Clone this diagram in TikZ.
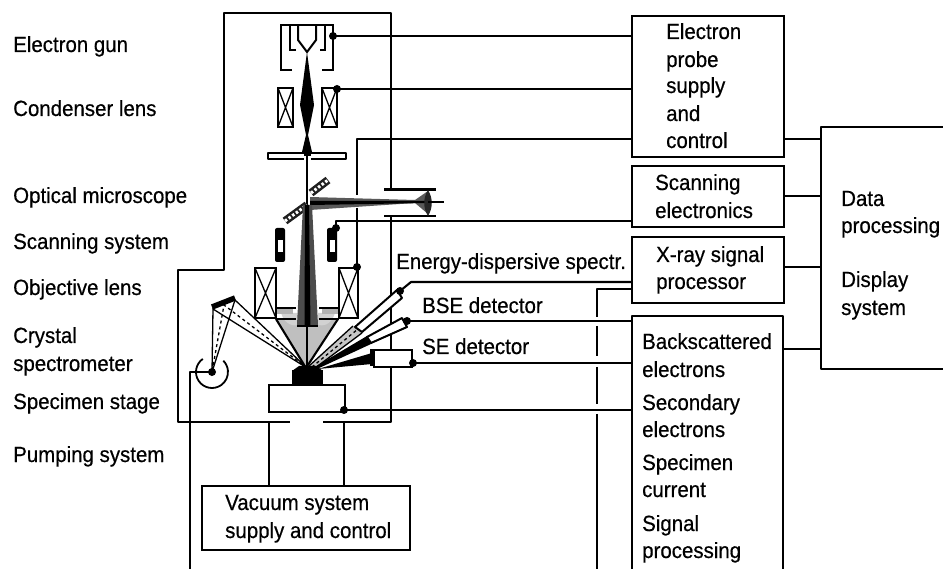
\documentclass[tikz,border=0pt]{standalone}
\usepackage{fontspec}
\setmainfont[FakeStretch=0.93,FakeBold=0.5]{Liberation Sans}
\usetikzlibrary{calc}
\tikzset{
  ln/.style={line width=2.1pt,line join=round},
  thin ln/.style={line width=1.3pt},
  txt/.style={inner sep=0pt,anchor=base west,font=\fontsize{22}{26}\selectfont},
  bx/.style={draw,line width=2.1pt,inner sep=0pt,anchor=north west},
  coil/.style={draw,line width=2pt},
  dot/.style={circle,fill=black,inner sep=0pt,minimum size=8pt},
  tube/.style={draw,fill=white,line width=2pt,line join=round},
}
\begin{document}
\begin{tikzpicture}[x=1pt,y=-1pt]
\useasboundingbox (0,0) rectangle (943,569);
% ---------- left labels
\foreach \t/\y in {Electron gun/52,Condenser lens/116,Optical microscope/203,Scanning system/249,Objective lens/295,Crystal/343,spectrometer/371,Specimen stage/409,Pumping system/462}
  \node[txt] at (13,\y) {\t};
% ---------- boxes
\node[bx,minimum width=152pt,minimum height=141pt] (probe) at (631,15) {};
\node[bx,minimum width=152pt,minimum height=61pt] (scan) at (631,165) {};
\node[bx,minimum width=152pt,minimum height=66pt] (xray) at (631,236) {};
\node[bx,minimum width=208pt,minimum height=64pt] (vac) at (201,485) {};
\coordinate (sigTL) at (632,316); \coordinate (sigTR) at (783,316);
\draw[ln] (632,569) -- (sigTL) -- (sigTR) -- (783,569);
\draw[ln] (943,127) -- (821,127) -- (821,369) -- (943,369);
\foreach \t/\y in {Electron/39,probe/67,supply/93,and/121,control/148} \node[txt] at (666,\y) {\t};
\foreach \t/\y in {Scanning/190,electronics/218} \node[txt] at (655,\y) {\t};
\foreach \t/\y in {X-ray signal/262,processor/289} \node[txt] at (656,\y) {\t};
\foreach \t/\y in {Backscattered/349,electrons/377,Secondary/410,electrons/437,Specimen/470,current/497,Signal/531,processing/558} \node[txt] at (642,\y) {\t};
\foreach \t/\y in {Data/206,processing/233,Display/287,system/315} \node[txt] at (841,\y) {\t};
\node[txt] at (225,510) {Vacuum system};
\node[txt] at (225,538) {supply and control};
\node[txt] at (396,269) {Energy-dispersive spectr.};
\node[txt] at (422,313) {BSE detector};
\node[txt] at (422,354) {SE detector};
% stubs to data system
\foreach \y in {139,196,267,349} \draw[ln] (783,\y) -- (821,\y);
% ---------- chamber
\draw[ln] (391,190) -- (391,13) -- (224,13) -- (224,270) -- (178,270) -- (178,422) -- (290,422);
\draw[ln] (323,422) -- (391,422) -- (391,216);
\draw[ln] (269,422) -- (269,485);
\draw[ln] (344,422) -- (344,485);
% ---------- named connection points
\coordinate (gunP) at (333,36);
\coordinate (condP) at (337,89);
\coordinate (objP) at (357,267);
\coordinate (scanP) at (336,228);
\coordinate (stageP) at (344,410);
\coordinate (edsP) at (400,291);
\coordinate (bseP) at (407,321);
\coordinate (seP) at (413,363);
\coordinate (wdsP) at (212,372);
% ---------- connectors
\draw[ln] (gunP) -- (gunP -| probe.west);
\draw[ln] (condP) -- (condP -| probe.west);
\draw[ln] (631,139) -- (357,139) -- (357,195);
\draw[ln] (357,208) -- (objP);
\draw[ln] (scanP) -- (336,221) -- (631,221);
\draw[ln] (stageP) -- (stageP -| sigTL);
\draw[ln] (edsP) -- (411,282) -- (631,282);
\draw[ln] (bseP) -- (bseP -| sigTL);
\draw[ln] (seP) -- (seP -| sigTL);
\draw[ln] (wdsP) -- (190,372) -- (190,569);
% dashed signal line
\draw[ln] (631,289) -- (597,289) -- (597,317);
\draw[ln] (597,326) -- (597,356);
\draw[ln] (597,367) -- (597,404);
\draw[ln] (597,414) -- (597,569);
% ---------- electron gun
\draw[coil] (292,70) -- (280.5,70) -- (280.5,25) -- (333,25) -- (333,70) -- (322,70);
\draw[coil] (296,50) -- (290,50) -- (290,25);
\draw[coil] (320,50) -- (325,50) -- (325,25);
\draw[coil] (298,25) -- (298,40) -- (307,52) -- (316,40) -- (316,25);
% condenser
\foreach \a/\b in {278/293,322/337}{
  \draw[coil] (\a,88) rectangle (\b,127);
  \draw[thin ln] (\a,88) -- (\b,127) (\a,127) -- (\b,88);
}
% beam upper
\fill (307,52) -- (314,105) -- (308,135) -- (312,152) -- (314,156) -- (300,156) -- (302,152) -- (306,135) -- (300,105) -- cycle;
% aperture
\draw[coil,fill=white,line join=round] (304,153) -- (268,153) -- (268,159) -- (304,159);
\draw[coil,fill=white,line join=round] (311,153) -- (346,153) -- (346,159) -- (311,159);
\draw[line width=1.6pt] (307,156) -- (307,205);
% ---------- mirror and optical path
\fill[gray!70!black] (310,197) -- (310,210) -- (415,203) -- (428,214) -- (428,191) -- (415,200) -- cycle;
\fill (310,201) -- (310,205) -- (428,203) -- (428,201) -- cycle;
\draw[line width=8pt,gray!25!black] (311,193) -- (328,180);
\draw[line width=8pt,gray!25!black] (285,221) -- (307,205);
\draw[line width=3pt,white,dash pattern=on 2.5pt off 2pt] (311,193) -- (328,180);
\draw[line width=3pt,white,dash pattern=on 2.5pt off 2pt] (285,221) -- (307,205);
\draw[ln] (384,189.5) -- (436,189.5);
\draw[ln] (384,216) -- (436,216);
\fill[gray!30!black] (428,190) .. controls (433,198) and (433,208) .. (428,216) .. controls (423,208) and (423,198) .. (428,190) -- cycle;
\draw[line width=1.6pt] (428,202) -- (444,202);
% scan coils
\foreach \a in {275,327}{
  \fill[rounded corners=2pt] (\a,228) rectangle ++(10,34);
  \fill[white] (\a+3,240) rectangle ++(4.5,12);
}
% ---------- objective lens
\foreach \a/\b in {255/276,339/358}{
  \draw[coil] (\a,268) rectangle (\b,318);
  \draw[thin ln] (\a,268) -- (\b,318) (\a,318) -- (\b,268);
}
% emission cone
\fill[gray!50] (276,319) -- (306,368) -- (338,319) -- cycle;
\fill[gray!35] (281,313) .. controls (285,326) and (295,326) .. (298,325) -- (298,313) -- cycle;
\fill[gray!35] (335,313) .. controls (331,326) and (322,326) .. (318,325) -- (318,313) -- cycle;
\fill[gray!60] (277,308) rectangle (293,314);
\fill[gray!60] (322,308) rectangle (338,314);
\draw[ln] (276,319) -- (296,319) (319,319) -- (339,319);
\draw[ln] (276,319) -- (306,368) -- (338,319);
\draw[ln] (276,308) -- (296,308) (319,308) -- (339,308);
% beam lower
\fill[gray!60!black] (303,205) -- (312,205) -- (318,325) -- (297,325) -- cycle;
\fill (305,205) -- (309,205) -- (310.5,326) -- (304.5,326) -- cycle;
\draw[ln] (297,326) -- (318,326);
\draw[line width=2pt] (307,326) -- (307,368);
% ---------- X-ray crystal spectrometer
\coordinate (apex) at (307,368);
\draw[thin ln] (apex) -- (213,309) -- (wdsP) -- (235,300) -- (apex);
\draw[thin ln,dashed] (apex) -- (224,305) -- (wdsP);
\draw[line width=5.5pt] (212,307) -- (235,298);
\draw[line width=1.8pt] (202.8,358.9) arc[start angle=125,end angle=405,radius=16pt];
% ---------- detectors
\fill[gray!45] (309,366) -- (353,326) -- (362,333) -- (315,368) -- cycle;
\draw[thin ln] (309,366) -- (353,326) (315,368) -- (362,333);
\draw[thin ln,dashed] (312,367) -- (358,329);
\draw[tube] (355,327) -- (397,290) -- (402,298) -- (362,332) -- cycle;
\fill (313,368) -- (367,336) -- (371,344) -- (317,369) -- cycle;
\draw[tube] (367,337) -- (402,318) -- (407,327) -- (371,343) -- cycle;
\fill (318,369) -- (372,353) -- (372,364) -- cycle;
\node[draw,fill=white,line width=2.1pt,minimum width=38pt,minimum height=17pt,inner sep=0pt,anchor=north west] (sedet) at (373,349) {};
\fill (370,349) rectangle (374,366);
% ---------- specimen and stage
\fill (292,370) rectangle (323,385);
\fill (299,366) -- (316,366) -- (323,371) -- (292,371) -- cycle;
\node[draw,fill=white,line width=2.1pt,minimum width=76pt,minimum height=27pt,inner sep=0pt,anchor=north west] (stage) at (268,384) {};
% ---------- dots
\foreach \p in {gunP,condP,objP,scanP,stageP,edsP,bseP,seP,wdsP}
  \node[dot] at (\p) {};
\end{tikzpicture}
\end{document}
